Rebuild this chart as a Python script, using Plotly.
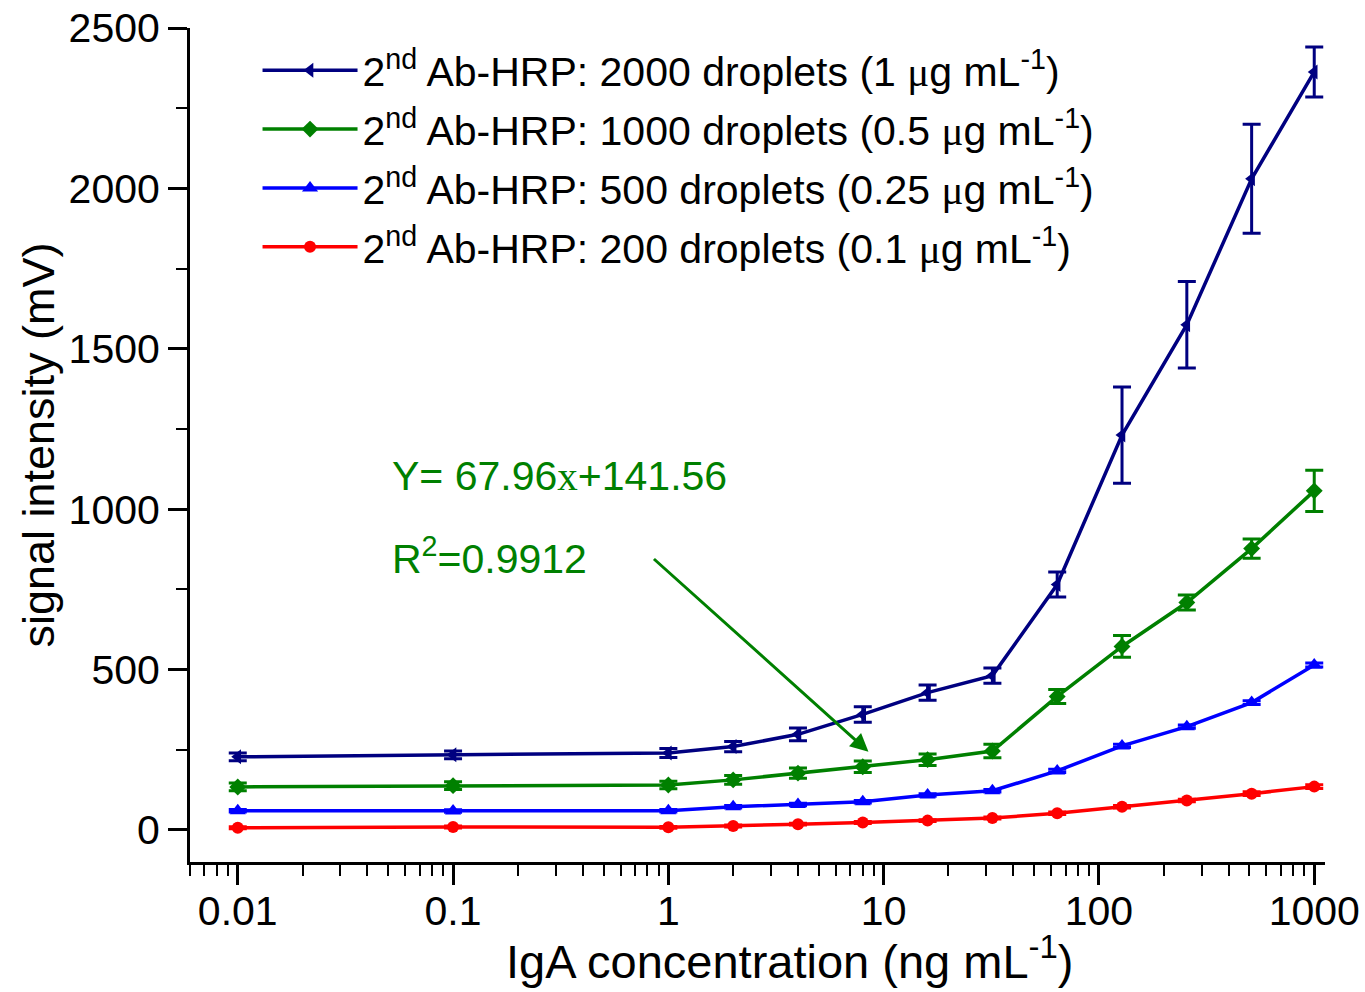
import plotly.graph_objects as go
import numpy as np

conc = [0.01, 0.1, 1, 2, 4, 8, 16, 32, 64, 128, 256, 512, 1000]

navy_y = [228, 234, 240, 260, 298, 360, 428, 481, 765, 1231, 1575, 2030, 2363]
navy_err = [12, 12, 14, 16, 20, 24, 24, 24, 39, 150, 135, 170, 78]
green_y = [134, 138, 140, 156, 177, 197, 219, 246, 416, 572, 709, 877, 1057]
green_err = [12, 12, 12, 14, 16, 18, 18, 21, 22, 34, 23, 30, 64]
blue_y = [60, 59, 60, 72, 79, 88, 109, 122, 184, 262, 322, 397, 514]
blue_err = [4, 4, 4, 4, 4, 4, 4, 4, 5, 5, 5, 6, 6]
red_y = [7, 9, 8, 12, 18, 23, 29, 37, 52, 72, 92, 113, 135]
red_err = [3, 3, 3, 3, 3, 3, 3, 3, 4, 4, 4, 6, 6]

MU = "<span style=\"font-family:'Liberation Serif', serif\">μ</span>"
names = [
    f"2<sup>nd</sup> Ab-HRP: 2000 droplets (1 {MU}g mL<sup>-1</sup>)",
    f"2<sup>nd</sup> Ab-HRP: 1000 droplets (0.5 {MU}g mL<sup>-1</sup>)",
    f"2<sup>nd</sup> Ab-HRP: 500 droplets (0.25 {MU}g mL<sup>-1</sup>)",
    f"2<sup>nd</sup> Ab-HRP: 200 droplets (0.1 {MU}g mL<sup>-1</sup>)",
]
colors = ["#000080", "#008000", "#0000FF", "#FF0000"]
symbols = ["triangle-left", "diamond", "triangle-up", "circle"]
msizes = [13, 13, 14, 12]
series = [navy_y, green_y, blue_y, red_y]
errs = [navy_err, green_err, blue_err, red_err]

x_tickvals = [0.01, 0.1, 1, 10, 100, 1000]
x_ticktext = ["0.01", "0.1", "1", "10", "100", "1000"]
y_tickvals = [0, 500, 1000, 1500, 2000, 2500]

fig = go.Figure()
for i, (nm, c, s, ms, yv, ev) in enumerate(zip(names, colors, symbols, msizes, series, errs)):
    fig.add_trace(go.Scatter(
        x=conc, y=yv, name=nm, mode="lines+markers", legendgroup=f"g{i}",
        line=dict(color=c, width=3.5),
        marker=dict(symbol=s, size=ms, color=c),
        error_y=dict(type="data", array=ev, visible=True, color=c, thickness=3, width=9),
    ))

FONT = "Liberation Sans, Arial, sans-serif"

fig.update_layout(
    width=1365, height=992,
    margin=dict(l=190, r=40, t=28, b=130, autoexpand=False),
    paper_bgcolor="white", plot_bgcolor="white",
    font=dict(family=FONT, color="black", size=41),
    showlegend=True,
    legend=dict(
        x=0.0595, y=0.989, xanchor="left", yanchor="top",
        bgcolor="rgba(0,0,0,0)", font=dict(size=41, family=FONT),
        itemwidth=95, tracegroupgap=2.5,
    ),
    xaxis=dict(
        type="log", range=[np.log10(0.006), 3.05], automargin=False,
        showline=True, linecolor="black", linewidth=3, mirror=False,
        showgrid=False, zeroline=False,
        tickvals=x_tickvals, ticktext=x_ticktext,
        ticks="outside", ticklen=20, tickwidth=3, tickcolor="black",
        tickfont=dict(size=41, family=FONT), ticklabelstandoff=-9,
        minor=dict(ticks="outside", ticklen=11, tickwidth=2, tickcolor="black", dtick="D1", showgrid=False),
    ),
    yaxis=dict(
        range=[-100, 2500], automargin=False,
        showline=True, linecolor="black", linewidth=3, mirror=False,
        showgrid=False, zeroline=False,
        tickvals=y_tickvals,
        ticks="outside", ticklen=19, tickwidth=3, tickcolor="black",
        tickfont=dict(size=41, family=FONT),
        minor=dict(ticks="outside", ticklen=11, tickwidth=2, tickcolor="black", dtick=250, showgrid=False),
        title=dict(text="signal intensity (mV)", font=dict(size=45, family=FONT), standoff=0),
    ),
)

# x-axis title (placed as in the reference, slightly right of centre)
fig.add_annotation(
    xref="paper", yref="paper", x=(789 - 190) / 1135, y=(862 - 958) / 834,
    xanchor="center", yanchor="middle", showarrow=False,
    text="IgA concentration (ng mL<sup>-1</sup>)",
    font=dict(size=47, color="black", family=FONT),
)

green = "#008000"
fig.add_annotation(
    xref="paper", yref="paper", x=(390 - 190) / 1135, y=(862 - 476) / 834,
    xanchor="left", yanchor="middle", showarrow=False,
    text="Y= 67.96<span style=\"font-family:'Liberation Serif', 'Times New Roman', serif\">x</span>+141.56",
    font=dict(size=41, color=green, family=FONT),
)
fig.add_annotation(
    xref="paper", yref="paper", x=(390 - 190) / 1135, y=(862 - 556) / 834,
    xanchor="left", yanchor="middle", showarrow=False,
    text="R<sup>2</sup>=0.9912",
    font=dict(size=41, color=green, family=FONT),
)
# arrow pointing at the 8 ng/mL point of the 1000-droplet series
fig.add_annotation(
    x=np.log10(8.5), y=244, xref="x", yref="y",
    ax=-216, ay=-194, axref="pixel", ayref="pixel",
    showarrow=True, arrowhead=2, arrowsize=1.2, arrowwidth=3, arrowcolor=green,
    text="",
)

fig.write_html("out.html", config={"displayModeBar": False},
               post_script="document.body.style.margin='0';")
